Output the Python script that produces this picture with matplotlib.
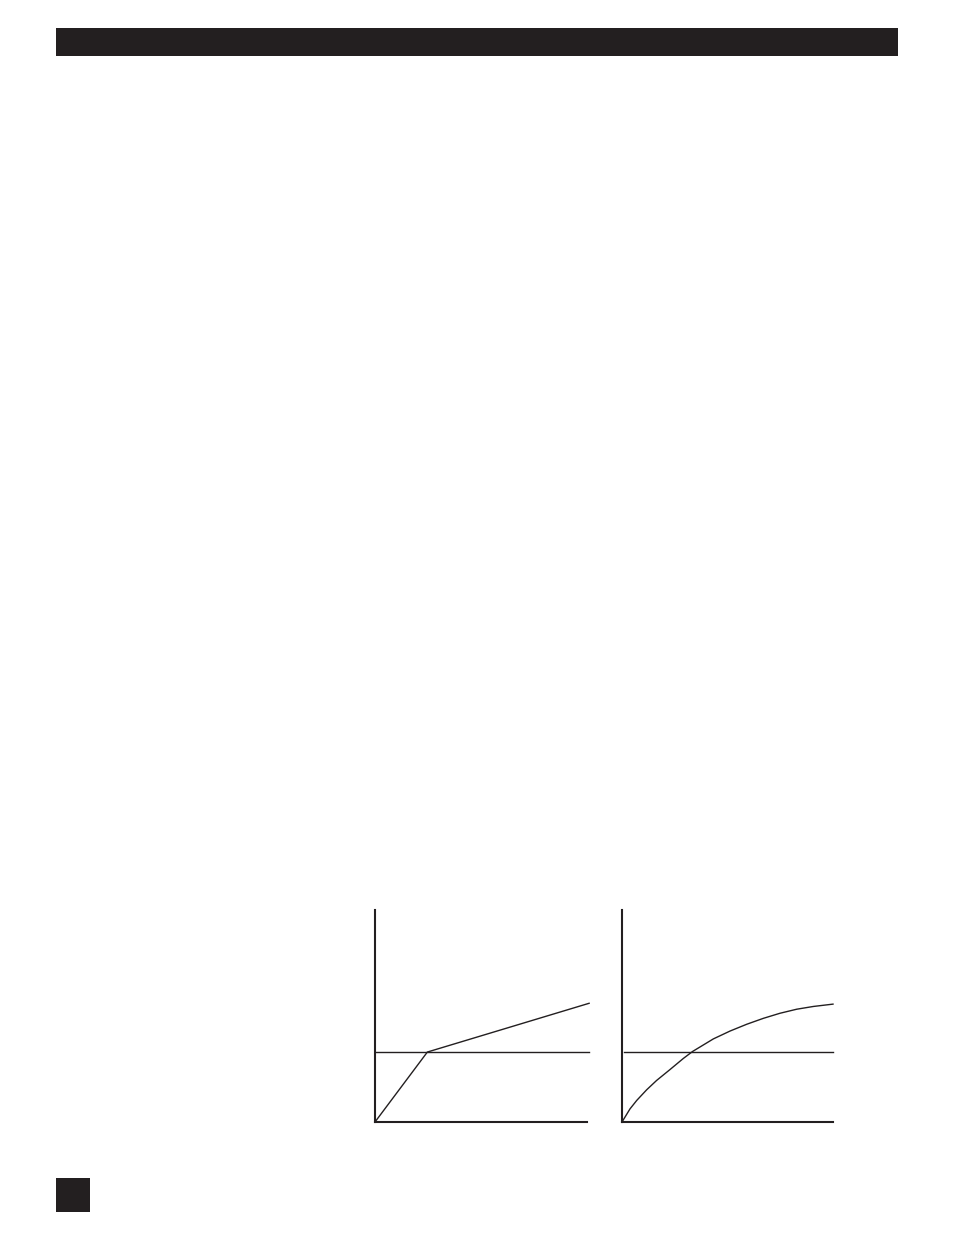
import matplotlib
matplotlib.use("Agg")
import matplotlib.pyplot as plt
from matplotlib.patches import Rectangle

INK = "#231f20"
W, H = 954, 1235

# left chart: straight rise, knee, then shallower slope
lin_x = [0.0, 0.247, 1.01]
lin_y = [0.0, 0.330, 0.560]
lin_level = 0.330
lin_level_x = [0.0, 1.01]

# right chart: saturating curve
curve_x = [0.0, 0.038, 0.070, 0.117, 0.164, 0.227, 0.291, 0.335, 0.433,
           0.512, 0.591, 0.670, 0.749, 0.828, 0.907, 1.0]
curve_y = [0.0, 0.062, 0.102, 0.152, 0.196, 0.247, 0.300, 0.333, 0.392,
           0.429, 0.461, 0.489, 0.513, 0.532, 0.545, 0.556]
curve_level = 0.331
curve_level_x = [0.01, 1.0]


def px_axes(fig, x0, y0, x1, y1):
    # pixel box (top-left origin) -> figure fraction
    return fig.add_axes([x0 / W, 1 - y1 / H, (x1 - x0) / W, (y1 - y0) / H])


def style(ax):
    ax.set_xlim(0, 1)
    ax.set_ylim(0, 1)
    for s in ["top", "right"]:
        ax.spines[s].set_visible(False)
    for s in ["left", "bottom"]:
        ax.spines[s].set_color(INK)
        ax.spines[s].set_linewidth(1.5)
    ax.set_xticks([])
    ax.set_yticks([])
    ax.patch.set_alpha(0)


fig = plt.figure(figsize=(W / 100, H / 100), dpi=100)

# page decorations: header bar and page-number block
fig.add_artist(Rectangle((56 / W, 1 - 56 / H), (898 - 56) / W, 28 / H,
                         transform=fig.transFigure, facecolor=INK, edgecolor="none"))
fig.add_artist(Rectangle((56 / W, 1 - 1212 / H), 34 / W, 34 / H,
                         transform=fig.transFigure, facecolor=INK, edgecolor="none"))

ax1 = px_axes(fig, 375, 910, 587, 1122)
style(ax1)
ax1.plot(lin_x, lin_y, color=INK, lw=1.0, clip_on=False, solid_joinstyle="miter")
ax1.plot(lin_level_x, [lin_level, lin_level], color=INK, lw=1.0, clip_on=False)

ax2 = px_axes(fig, 622, 910, 833, 1122)
style(ax2)
ax2.plot(curve_x, curve_y, color=INK, lw=1.0, clip_on=False, solid_joinstyle="round")
ax2.plot(curve_level_x, [curve_level, curve_level], color=INK, lw=1.0, clip_on=False)

fig.savefig("out.png", dpi=100, facecolor="white")
